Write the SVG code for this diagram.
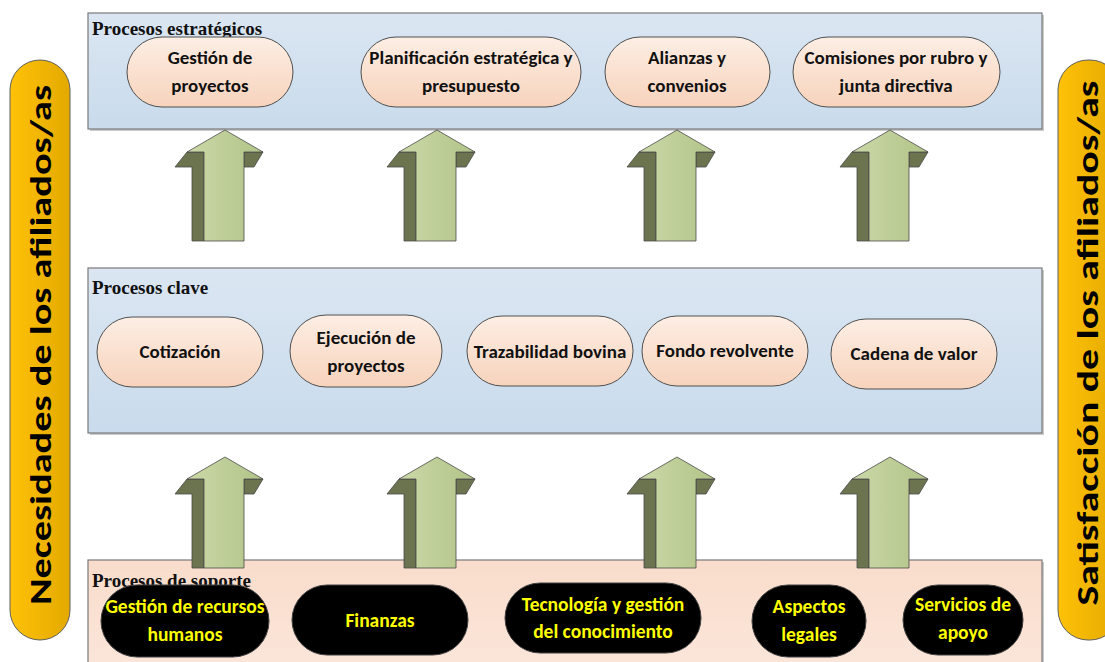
<svg xmlns="http://www.w3.org/2000/svg" width="1105" height="662" viewBox="0 0 1105 662">
<defs>
<linearGradient id="gBlue" x1="0" y1="0" x2="0" y2="1"><stop offset="0" stop-color="#dbe6f2"/><stop offset="1" stop-color="#c9dbec"/></linearGradient>
<linearGradient id="gPeachPanel" x1="0" y1="0" x2="0" y2="1"><stop offset="0" stop-color="#f9dccb"/><stop offset="1" stop-color="#fbe6da"/></linearGradient>
<linearGradient id="gNode" x1="0" y1="0" x2="0" y2="1"><stop offset="0" stop-color="#fdeee4"/><stop offset="1" stop-color="#f7d3bc"/></linearGradient>
<linearGradient id="gGold" x1="0" y1="0" x2="1" y2="0"><stop offset="0" stop-color="#ffc208"/><stop offset="1" stop-color="#e3a900"/></linearGradient>
<linearGradient id="gArrow" x1="0" y1="0" x2="1" y2="0"><stop offset="0" stop-color="#cbd8a8"/><stop offset="1" stop-color="#b2c488"/></linearGradient>
<style>
.panel{stroke:#7a7a7a;stroke-width:1.2}
.shadow{fill:#a9a9a9;opacity:0.6}
.plabel{font-family:"Liberation Serif","Times New Roman",serif;font-weight:bold;font-size:19px;fill:#111}
.node{fill:url(#gNode);stroke:#505050;stroke-width:1}
.bnode{fill:#000;stroke:#404040;stroke-width:1}
.nt{font-family:Carlito,Roboto,"Liberation Sans",sans-serif;font-weight:bold;font-size:19px;fill:#111;text-anchor:middle}
.bt{font-family:Carlito,Roboto,"Liberation Sans",sans-serif;font-weight:bold;font-size:19.5px;fill:#ffff00;text-anchor:middle}
.side{fill:url(#gGold);stroke:#606060;stroke-width:1}
.st{font-family:Carlito,"Open Sans","Liberation Sans",sans-serif;font-weight:bold;font-size:31px;fill:#000;text-anchor:middle}
.af{fill:url(#gArrow);stroke:#4a4a4a;stroke-width:0.8}
.ad{fill:#6b744e;stroke:#4a4a4a;stroke-width:0.8}
</style>
<g id="arrowShape">
<polygon class="ad" points="-38,22 -21,22 -21,111 -33,111 -33,37 -50,37"/>
<polygon class="ad" points="19,22 38,22 29,37 19,37"/>
<polygon class="af" points="0,0 38,22 19,22 19,111 -21,111 -21,22 -38,22"/>
</g>
</defs>
<rect width="1105" height="662" fill="#ffffff"/>

<g id="side-left">
<rect x="10" y="60" width="60" height="580" rx="30" class="side"/>
<text class="st" transform="translate(51,345) rotate(-90)" textLength="520" lengthAdjust="spacingAndGlyphs">Necesidades de los afiliados/as</text>
</g>
<g id="side-right">
<rect x="1058" y="60" width="62" height="580" rx="30" class="side"/>
<text class="st" transform="translate(1098,343) rotate(-90)" textLength="525" lengthAdjust="spacingAndGlyphs">Satisfacción de los afiliados/as</text>
</g>

<g id="panel-estrategicos">
<rect x="90" y="15" width="954" height="116" class="shadow"/>
<rect x="88" y="13" width="954" height="116" fill="url(#gBlue)" class="panel"/>
<text x="92" y="35" class="plabel">Procesos estratégicos</text>
</g>
<g id="panel-clave">
<rect x="90" y="270" width="954" height="165" class="shadow"/>
<rect x="88" y="268" width="954" height="165" fill="url(#gBlue)" class="panel"/>
<text x="92" y="294" class="plabel">Procesos clave</text>
</g>
<g id="panel-soporte">
<rect x="90" y="562" width="954" height="110" class="shadow"/>
<rect x="88" y="560" width="954" height="110" fill="url(#gPeachPanel)" class="panel"/>
<text x="92" y="587" class="plabel">Procesos de soporte</text>
</g>

<g id="connectors">
<use href="#arrowShape" transform="translate(225,130)"/>
<use href="#arrowShape" transform="translate(437,130)"/>
<use href="#arrowShape" transform="translate(677,130)"/>
<use href="#arrowShape" transform="translate(890,130)"/>
<use href="#arrowShape" transform="translate(225,457)"/>
<use href="#arrowShape" transform="translate(437,457)"/>
<use href="#arrowShape" transform="translate(677,457)"/>
<use href="#arrowShape" transform="translate(890,457)"/>
</g>

<g id="n-gestion-proyectos"><rect x="127" y="37" width="166" height="70" rx="35" class="node"/><text class="nt" x="210" y="64">Gestión de</text><text class="nt" x="210" y="92">proyectos</text></g>
<g id="n-planificacion"><rect x="361" y="37" width="220" height="70" rx="35" class="node"/><text class="nt" x="471" y="64">Planificación estratégica y</text><text class="nt" x="471" y="92">presupuesto</text></g>
<g id="n-alianzas"><rect x="605" y="37" width="165" height="70" rx="35" class="node"/><text class="nt" x="687" y="64">Alianzas y</text><text class="nt" x="687" y="92">convenios</text></g>
<g id="n-comisiones"><rect x="793" y="37" width="207" height="70" rx="35" class="node"/><text class="nt" x="896" y="64">Comisiones por rubro y</text><text class="nt" x="896" y="92">junta directiva</text></g>

<g id="n-cotizacion"><rect x="97" y="317" width="166" height="70" rx="35" class="node"/><text class="nt" x="180" y="358">Cotización</text></g>
<g id="n-ejecucion"><rect x="290" y="315" width="152" height="72" rx="36" class="node"/><text class="nt" x="366" y="344">Ejecución de</text><text class="nt" x="366" y="372">proyectos</text></g>
<g id="n-trazabilidad"><rect x="467" y="316" width="166" height="70" rx="35" class="node"/><text class="nt" x="550" y="358">Trazabilidad bovina</text></g>
<g id="n-fondo"><rect x="642" y="316" width="166" height="70" rx="35" class="node"/><text class="nt" x="725" y="357">Fondo revolvente</text></g>
<g id="n-cadena"><rect x="831" y="319" width="166" height="70" rx="35" class="node"/><text class="nt" x="914" y="360">Cadena de valor</text></g>

<g id="n-rrhh"><rect x="101" y="585" width="168" height="72" rx="36" class="bnode"/><text class="bt" x="185" y="613">Gestión de recursos</text><text class="bt" x="185" y="641">humanos</text></g>
<g id="n-finanzas"><rect x="292" y="585" width="176" height="70" rx="35" class="bnode"/><text class="bt" x="380" y="627">Finanzas</text></g>
<g id="n-tecnologia"><rect x="505" y="583" width="196" height="70" rx="35" class="bnode"/><text class="bt" x="603" y="611">Tecnología y gestión</text><text class="bt" x="603" y="638">del conocimiento</text></g>
<g id="n-legales"><rect x="752" y="585" width="114" height="72" rx="36" class="bnode"/><text class="bt" x="809" y="613">Aspectos</text><text class="bt" x="809" y="641">legales</text></g>
<g id="n-servicios"><rect x="903" y="585" width="120" height="70" rx="35" class="bnode"/><text class="bt" x="963" y="611">Servicios de</text><text class="bt" x="963" y="639">apoyo</text></g>
</svg>
